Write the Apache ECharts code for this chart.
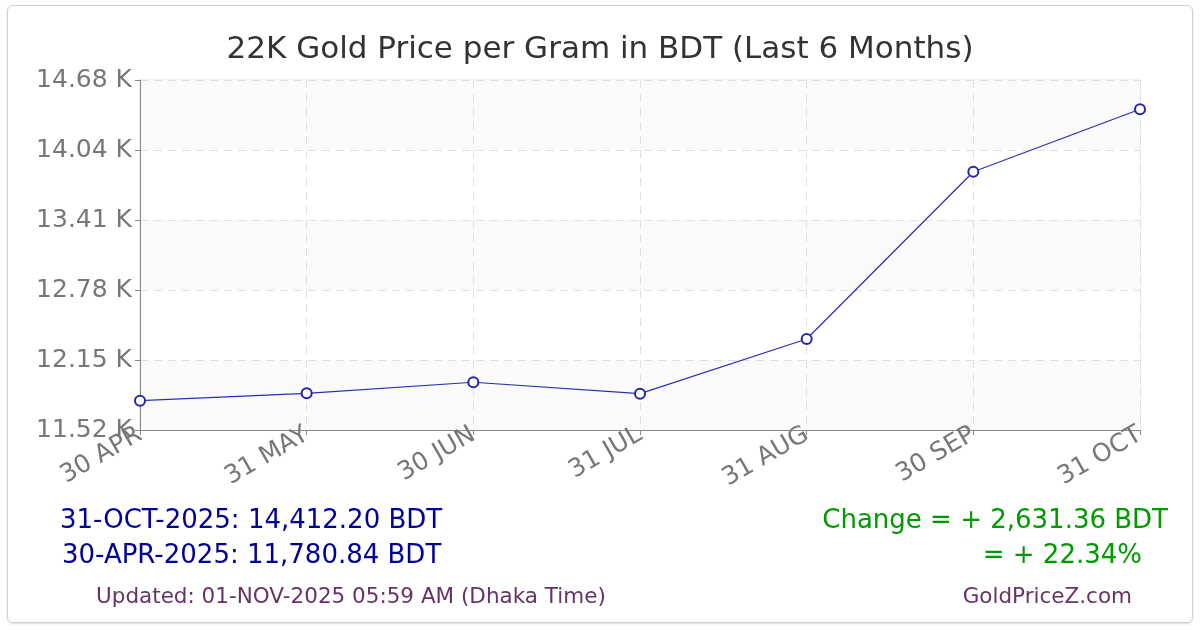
<!DOCTYPE html>
<html>
<head>
<meta charset="utf-8">
<script src="https://cdn.jsdelivr.net/npm/echarts@6/dist/echarts.min.js"></script>
<style>
html, body { margin: 0; padding: 0; background: #fff; }
#frame {
	position: absolute; left: 7px; top: 5px; width: 1184px; height: 616px;
	border: 1px solid #d0d0d0; border-radius: 6px; box-shadow: 0 1px 2px rgba(0,0,0,0.15);
}
#main { position: absolute; left: 0; top: 0; width: 1200px; height: 630px; }
</style>
</head>
<body>
<div id="frame"></div>
<div id="main"></div>
<script>
// 数据
var dates = ['30 APR', '31 MAY', '30 JUN', '31 JUL', '31 AUG', '30 SEP', '31 OCT'];
var prices = [11780.84, 11847, 11947, 11844, 12338, 13848, 14412.20];
var yMin = 11516;
var yStep = 632;
var yMax = 14676;

var lastLine = '31-OCT-2025: 14,412.20 BDT';
var firstLine = '30-APR-2025: 11,780.84 BDT';
var changeLine = 'Change = + 2,631.36 BDT';
var pctLine = '= + 22.34%';
var updatedLine = 'Updated: 01-NOV-2025 05:59 AM (Dhaka Time)';
var siteLine = 'GoldPriceZ.com';

window.onload = function() {

	var myChart = echarts.init(document.getElementById('main'));

	var font = 'DejaVu Sans';

	var option = {
		animation: false,
		title: {
			text: '22K Gold Price per Gram in BDT (Last 6 Months)',
			left: 'center',
			top: 29,
			textStyle: { fontFamily: font, fontSize: 31, fontWeight: 'normal', color: '#333' }
		},
		grid: {
			left: 140, right: 60, top: 80, bottom: 200,
			show: true, borderColor: '#e0e0e0', borderWidth: 1, backgroundColor: 'transparent'
		},
		xAxis: {
			type: 'category',
			data: dates,
			boundaryGap: false,
			axisLine: { lineStyle: { color: '#888', width: 1 } },
			axisTick: { show: true, length: 5, lineStyle: { color: '#888' } },
			axisLabel: {
				rotate: 30, interval: 0, margin: 3,
				fontFamily: font, fontSize: 25, color: '#777'
			},
			splitLine: { show: true, lineStyle: { color: '#e0e0e0', type: [8, 6] } }
		},
		yAxis: {
			type: 'value',
			min: yMin, max: yMax, interval: yStep,
			axisLine: { show: true, lineStyle: { color: '#888', width: 1 } },
			axisTick: { show: true, length: 5, lineStyle: { color: '#888' } },
			axisLabel: {
				margin: 8, fontFamily: font, fontSize: 25, color: '#777',
				formatter: function(v) { return (v / 1000).toFixed(2) + ' K'; }
			},
			splitLine: { show: true, lineStyle: { color: '#e0e0e0', type: [8, 6] } },
			splitArea: { show: true, areaStyle: { color: ['#fafafa', '#ffffff'] } }
		},
		series: [{
			type: 'line',
			data: prices,
			symbol: 'emptyCircle',
			symbolSize: 10,
			lineStyle: { color: '#2e2eb4', width: 1.2 },
			itemStyle: { color: '#2424b0', borderWidth: 3 }
		}],
		graphic: [
			{ type: 'text', left: 60, top: 508, style: { text: lastLine, font: '26px "' + font + '"', fill: '#000099' } },
			{ type: 'text', left: 62, top: 543, style: { text: firstLine, font: '26px "' + font + '"', fill: '#000099' } },
			{ type: 'text', right: 32, top: 508, style: { text: changeLine, font: '26px "' + font + '"', fill: '#009900' } },
			{ type: 'text', right: 58, top: 543, style: { text: pctLine, font: '26px "' + font + '"', fill: '#009900' } },
			{ type: 'text', left: 96, top: 586, style: { text: updatedLine, font: '21.5px "' + font + '"', fill: '#663366' } },
			{ type: 'text', right: 68, top: 586, style: { text: siteLine, font: '21.5px "' + font + '"', fill: '#663366' } }
		]
	};

	myChart.setOption(option);
};
</script>
</body>
</html>
